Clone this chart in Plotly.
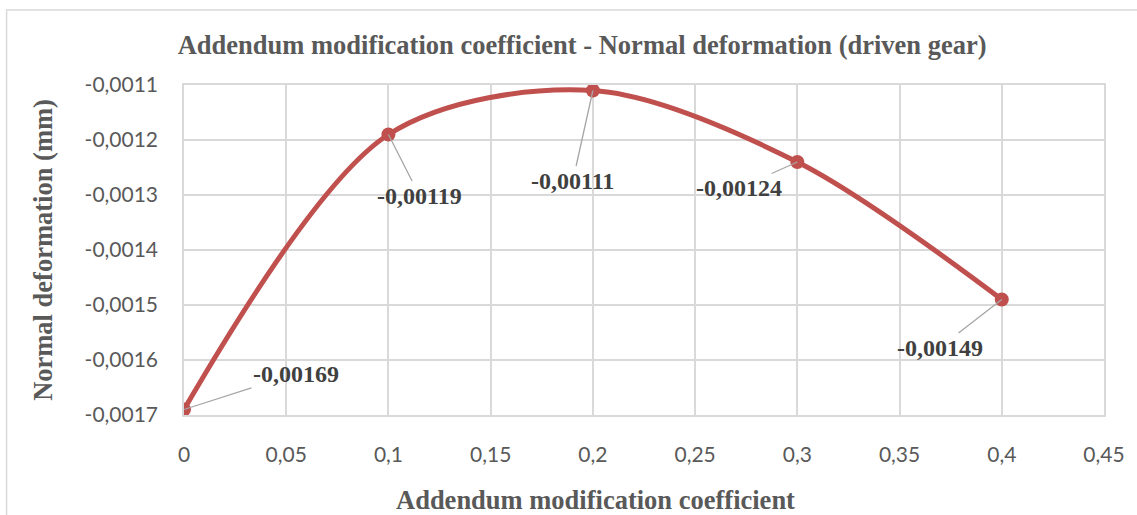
import plotly.graph_objects as go

x_vals = [0, 0.1, 0.2, 0.3, 0.4]
y_vals = [-0.00169, -0.00119, -0.00111, -0.00124, -0.00149]
point_labels = ["-0,00169", "-0,00119", "-0,00111", "-0,00124", "-0,00149"]
label_dx = [112, 31, -20, -58, -62]
label_dy = [-36, 61, 90, 26, 48]

y_tick_vals = [-0.0011, -0.0012, -0.0013, -0.0014, -0.0015, -0.0016, -0.0017]
y_tick_text = ["-0,0011", "-0,0012", "-0,0013", "-0,0014", "-0,0015", "-0,0016", "-0,0017"]
x_tick_vals = [0, 0.05, 0.1, 0.15, 0.2, 0.25, 0.3, 0.35, 0.4, 0.45]
x_tick_text = ["0", "0,05", "0,1", "0,15", "0,2", "0,25", "0,3", "0,35", "0,4", "0,45"]

RED = "#C0504D"
GRAY = "#595959"
GRID = "#D9D9D9"
SERIF = "Liberation Serif"
SANS = "Lato"

fig = go.Figure()
fig.add_trace(go.Scatter(
    x=x_vals, y=y_vals, mode="lines+markers",
    line=dict(color=RED, width=5, shape="spline", smoothing=0.9),
    marker=dict(color=RED, size=14),
    showlegend=False, hoverinfo="skip",
))

for xv, yv, t, dx, dy in zip(x_vals, y_vals, point_labels, label_dx, label_dy):
    fig.add_annotation(
        x=xv, y=yv, text=f"<b>{t}</b>", showarrow=True, arrowhead=0,
        arrowwidth=1.3, arrowcolor="#A6A6A6", ax=dx, ay=dy, standoff=0,
        font=dict(family=SERIF, size=24, color="#404040"),
    )

# x-axis title centred on the whole chart, as in the reference
fig.add_annotation(
    xref="paper", yref="paper", x=(597 - 184) / 923, y=-85 / 330,
    xanchor="center", yanchor="middle", showarrow=False,
    text="<b>Addendum modification coefficient</b>",
    font=dict(family=SERIF, size=26.5, color=GRAY),
)

fig.update_layout(
    width=1137, height=515,
    margin=dict(l=184, r=30, t=85, b=100),
    paper_bgcolor="white", plot_bgcolor="white",
    title=dict(
        text="<b>Addendum modification coefficient - Normal deformation (driven gear)</b>",
        x=0.512, xanchor="center", y=1 - 45 / 515, yanchor="middle",
        font=dict(family=SERIF, size=26.5, color=GRAY),
    ),
    xaxis=dict(
        range=[0, 0.45], tickvals=x_tick_vals, ticktext=x_tick_text,
        showgrid=True, gridcolor=GRID, gridwidth=1.5,
        showline=True, linecolor=GRID, linewidth=1.5, mirror=True,
        zeroline=False, ticks="", ticklabelstandoff=20,
        tickfont=dict(family=SANS, size=21, color=GRAY),
    ),
    yaxis=dict(
        range=[-0.0017, -0.0011], tickvals=y_tick_vals, ticktext=y_tick_text,
        showgrid=True, gridcolor=GRID, gridwidth=1.5,
        showline=True, linecolor=GRID, linewidth=1.5, mirror=True,
        zeroline=False, ticks="", ticklabelstandoff=20,
        tickfont=dict(family=SANS, size=21, color=GRAY),
        title=dict(text="<b>Normal deformation (mm)</b>",
                   font=dict(family=SERIF, size=26.5, color=GRAY), standoff=24),
    ),
    shapes=[dict(type="rect", xref="paper", yref="paper",
                 x0=-178 / 923, x1=1.2, y0=-0.5, y1=1 + 75 / 330,
                 line=dict(color="#D9D9D9", width=1.5), layer="below")],
)

fig.write_html("out.html", config={"displayModeBar": False},
               post_script="document.body.style.margin='0px';")
